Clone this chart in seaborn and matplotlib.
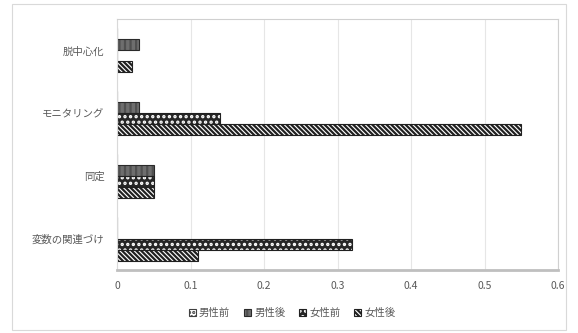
import matplotlib
matplotlib.use("Agg")
import matplotlib.pyplot as plt
import matplotlib.patches as mpatches
import matplotlib.colors as mcolors
import seaborn as sns
import pandas as pd

categories = ["脱中心化", "モニタリング", "同定", "変数の関連づけ"]
series = ["男性前", "男性後", "女性前", "女性後"]
male_pre = [0.0, 0.0, 0.0, 0.0]
male_post = [0.03, 0.03, 0.05, 0.0]
female_pre = [0.0, 0.14, 0.05, 0.32]
female_post = [0.02, 0.55, 0.05, 0.11]
xticks = [0, 0.1, 0.2, 0.3, 0.4, 0.5, 0.6]
xtick_labels = ["0", "0.1", "0.2", "0.3", "0.4", "0.5", "0.6"]

rows = []
for s, vals in zip(series, [male_pre, male_post, female_pre, female_post]):
    for c, v in zip(categories, vals):
        rows.append({"cat": c, "series": s, "value": v})
df = pd.DataFrame(rows)

sns.set_theme(style="white")
plt.rcParams["font.family"] = ["Noto Sans CJK JP", "DejaVu Sans"]
plt.rcParams["hatch.linewidth"] = 1.6

styles = {
    "男性前": dict(fc="white", ec="#404040", hatch="....", hc="#404040"),
    "男性後": dict(fc="#6e6e6e", ec="#2a2a2a", hatch="|||", hc="#505050"),
    "女性前": dict(fc="#262626", ec="#202020", hatch="...", hc="#ffffff"),
    "女性後": dict(fc="white", ec="#202020", hatch="\\\\\\\\\\\\\\", hc="#202020"),
}


def style_patch(p, st):
    p.set_facecolor(st["fc"])
    p.set_edgecolor(st["ec"])
    p.set_hatch(st["hatch"])
    p._hatch_color = mcolors.to_rgba(st["hc"])
    p.set_linewidth(0.8)


fig = plt.figure(figsize=(5.78, 3.33), dpi=100)
ax = fig.add_axes([117/578, 1-270/333, (558-117)/578, (270-19)/333])

sns.barplot(data=df, y="cat", x="value", hue="series", order=categories,
            hue_order=series, orient="h", width=0.7, ax=ax, legend=False,
            errorbar=None, palette=["white"]*4)

for cont, s in zip(ax.containers, series):
    for p in cont:
        style_patch(p, styles[s])

ax.set_xlim(0, 0.6)
ax.set_xticks(xticks)
ax.set_xticklabels(xtick_labels)
ax.set_xlabel("")
ax.set_ylabel("")
ax.grid(axis="x", color="#e6e6e6", linewidth=0.8)
ax.set_axisbelow(True)
for side in ["top", "right"]:
    ax.spines[side].set_color("#d0d0d0")
    ax.spines[side].set_linewidth(0.8)
ax.spines["left"].set_color("#d9d9d9")
ax.spines["left"].set_linewidth(0.8)
ax.spines["bottom"].set_color("#bfbfbf")
ax.spines["bottom"].set_linewidth(2.0)
ax.tick_params(axis="x", length=0, pad=8, labelsize=7.5, labelcolor="#595959")
ax.tick_params(axis="y", length=0, pad=9, labelsize=7.5, labelcolor="#595959")

handles = []
for s in series:
    h = mpatches.Patch(label=s)
    style_patch(h, styles[s])
    handles.append(h)
leg = fig.legend(handles=handles, loc="center", bbox_to_anchor=(292/578, 1-313/333),
                 ncol=4, frameon=False, fontsize=7.5, handlelength=0.7,
                 handleheight=0.7, handletextpad=0.3, columnspacing=1.3)
for t in leg.get_texts():
    t.set_color("#595959")
for lh, s in zip(leg.legend_handles, series):
    style_patch(lh, styles[s])

border = mpatches.Rectangle((12/578, 1-330/333), (566-12)/578, (330-4)/333,
                            transform=fig.transFigure, fill=False,
                            edgecolor="#d9d9d9", linewidth=0.8)
fig.patches.append(border)

fig.savefig("out.png", dpi=100)
